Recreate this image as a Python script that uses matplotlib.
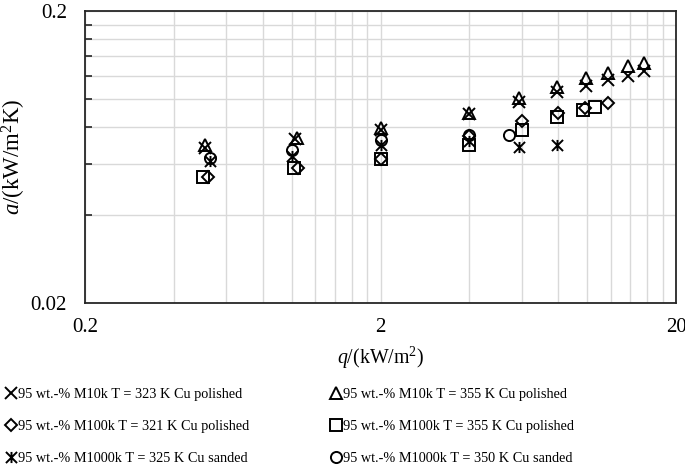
import matplotlib
matplotlib.use("Agg")
import matplotlib.pyplot as plt
from matplotlib.path import Path
from matplotlib.ticker import NullFormatter, FixedLocator, FixedFormatter

plt.rcParams['font.family'] = ['Liberation Serif', 'DejaVu Serif']
plt.rcParams['mathtext.fontset'] = 'custom'
plt.rcParams['mathtext.rm'] = 'Liberation Serif'
plt.rcParams['mathtext.it'] = 'Liberation Serif:italic'

# data (q in kW/m2, a in kW/m2K)
q_m10k_323 = [0.51, 1.03, 2.0, 4.0, 5.9, 7.9, 9.9, 11.8, 13.7, 15.6]
a_m10k_323 = [0.068, 0.073, 0.078, 0.089, 0.0976, 0.1056, 0.1107, 0.116, 0.1198, 0.1247]

q_m10k_355 = [0.51, 1.04, 2.0, 4.0, 5.9, 7.9, 9.9, 11.8, 13.7, 15.6]
a_m10k_355 = [0.0695, 0.0735, 0.0796, 0.0895, 0.1007, 0.11, 0.118, 0.1227, 0.1297, 0.1327]

q_m100k_321 = [0.52, 1.05, 2.0, 4.0, 6.0, 8.0, 9.8, 11.8]
a_m100k_321 = [0.054, 0.058, 0.0622, 0.0745, 0.084, 0.0895, 0.093, 0.0968]

q_m100k_355 = [0.50, 1.02, 2.0, 4.0, 6.0, 7.9, 9.7, 10.6]
a_m100k_355 = [0.054, 0.058, 0.0622, 0.0695, 0.0782, 0.0867, 0.0916, 0.0938]

q_m1000k_325 = [0.53, 1.0, 2.0, 4.0, 5.9, 7.9]
a_m1000k_325 = [0.0613, 0.0637, 0.0695, 0.072, 0.0684, 0.0695]

q_m1000k_350 = [0.53, 1.0, 2.0, 4.0, 5.45]
a_m1000k_350 = [0.0628, 0.0668, 0.0723, 0.075, 0.0752]

labels = ["95 wt.-% M10k T = 323 K Cu polished",
          "95 wt.-% M100k T = 321 K Cu polished",
          "95 wt.-% M1000k T = 325 K Cu sanded",
          "95 wt.-% M10k T = 355 K Cu polished",
          "95 wt.-% M100k T = 355 K Cu polished",
          "95 wt.-% M1000k T = 350 K Cu sanded"]

# excel style log axis: minor lines at 2..9 times the axis minimum
x_minor = [0.2 * k for k in range(2, 10)] + [2 * k for k in range(2, 10)]
y_minor = [0.02 * k for k in range(2, 10)]

# excel-like star: an x with a vertical bar
star = Path([(-1, -1), (1, 1), (-1, 1), (1, -1), (0, -1), (0, 1)],
            [Path.MOVETO, Path.LINETO, Path.MOVETO, Path.LINETO, Path.MOVETO, Path.LINETO])

fig = plt.figure(figsize=(6.85, 4.66), dpi=100)
ax = fig.add_axes([0.124, 0.35, 0.863, 0.626])

kw = dict(linestyle='none', color='black', markerfacecolor='none',
          markeredgecolor='black', markeredgewidth=1.4, markersize=8)
h1, = ax.plot(q_m10k_323, a_m10k_323, marker='x', **kw)
h4, = ax.plot(q_m10k_355, a_m10k_355, marker='^', **kw)
h2, = ax.plot(q_m100k_321, a_m100k_321, marker='D', **{**kw, 'markersize': 6.5})
h5, = ax.plot(q_m100k_355, a_m100k_355, marker='s', **kw)
h3, = ax.plot(q_m1000k_325, a_m1000k_325, marker=star, **kw)
h6, = ax.plot(q_m1000k_350, a_m1000k_350, marker='o', **kw)

ax.set_xscale('log')
ax.set_yscale('log')
ax.set_xlim(0.2, 20)
ax.set_ylim(0.02, 0.2)

ax.xaxis.set_major_locator(FixedLocator([0.2, 2, 20]))
ax.xaxis.set_major_formatter(FixedFormatter(['0.2', '2', '20']))
ax.xaxis.set_minor_locator(FixedLocator(x_minor))
ax.xaxis.set_minor_formatter(NullFormatter())
ax.yaxis.set_major_locator(FixedLocator([0.02, 0.2]))
ax.yaxis.set_major_formatter(FixedFormatter(['0.02', '0.2']))
ax.yaxis.set_minor_locator(FixedLocator(y_minor))
ax.yaxis.set_minor_formatter(NullFormatter())

ax.grid(True, which='both', color='#d9d9d9', linewidth=1.0)
ax.set_axisbelow(True)
for s in ax.spines.values():
    s.set_color('#262626')
    s.set_linewidth(1.3)
ax.tick_params(axis='both', which='major', labelsize=15, direction='out', length=0)
ax.tick_params(axis='y', which='major', pad=13)
ax.tick_params(axis='x', which='major', pad=11)
ax.tick_params(axis='y', which='minor', direction='in', length=5, width=1.2, color='#262626')
ax.tick_params(axis='x', which='minor', length=0)

ax.set_xlabel(r"$\it{q}$/(kW/m$^2$)", fontsize=14.3)
ax.set_ylabel(r"$\it{a}$/(kW/m$^2$K)", fontsize=16.5)
ax.xaxis.set_label_coords(0.5, -0.145)
ax.yaxis.set_label_coords(-0.096, 0.5)

fig.legend([h1, h2, h3, h4, h5, h6], labels, ncol=2, loc='upper left',
           bbox_to_anchor=(-0.005, 0.185), frameon=False, fontsize=10.3,
           handlelength=0.8, handletextpad=0.1, columnspacing=5.65,
           labelspacing=1.33, borderaxespad=0.2)

fig.savefig("out.png", dpi=100)
